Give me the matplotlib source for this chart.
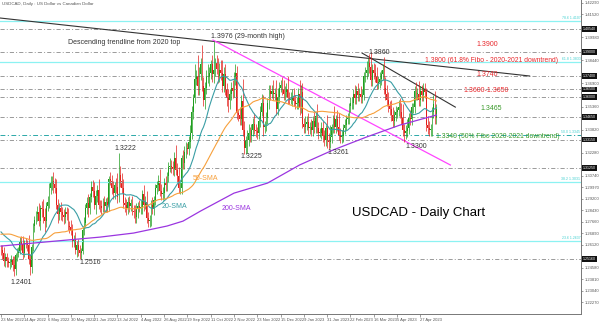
import matplotlib.pyplot as plt
import numpy as np
import pandas as pd

# daily closes, 23 Mar 2022 -> 16 May 2023 (one row per week)
closes = [
    1.2575, 1.2560, 1.2500,
    1.2530, 1.2500, 1.2490, 1.2495, 1.2510,
    1.2475, 1.2450, 1.2545, 1.2560, 1.2570,
    1.2630, 1.2615, 1.2560, 1.2625, 1.2620,
    1.2610, 1.2520, 1.2460, 1.2600, 1.2740,
    1.2780, 1.2820, 1.2830, 1.2770, 1.2860,
    1.2850, 1.2800, 1.2770, 1.2870, 1.2900,
    1.2990, 1.3030, 1.3040, 1.3020, 1.2990,
    1.2880, 1.2820, 1.2860, 1.2830, 1.2810,
    1.2800, 1.2830, 1.2815, 1.2740, 1.2730,
    1.2710, 1.2640, 1.2650, 1.2580, 1.2610,
    1.2580, 1.2560, 1.2570, 1.2710, 1.2760,
    1.2860, 1.2890, 1.2860, 1.2930, 1.3000,
    1.2970, 1.2880, 1.2940, 1.2980, 1.2880,
    1.2870, 1.2860, 1.2900, 1.2870, 1.2900,
    1.2880, 1.3050, 1.3040, 1.2990, 1.2960,
    1.3010, 1.3000, 1.2930, 1.3080, 1.3040,
    1.2990, 1.2890, 1.2880, 1.2860, 1.2900,
    1.2870, 1.2890, 1.2840, 1.2830, 1.2800,
    1.2850, 1.2870, 1.2860, 1.2860, 1.2950,
    1.2880, 1.2900, 1.2790, 1.2770, 1.2780,
    1.2880, 1.2850, 1.2910, 1.2990, 1.3010,
    1.3040, 1.2970, 1.2950, 1.2960, 1.3030,
    1.3010, 1.3070, 1.3130, 1.3140, 1.3130,
    1.3120, 1.3190, 1.3110, 1.3070, 1.2990,
    1.2990, 1.3190, 1.3160, 1.3230, 1.3260,
    1.3250, 1.3300, 1.3360, 1.3500, 1.3590,
    1.3720, 1.3740, 1.3670, 1.3750, 1.3820,
    1.3670, 1.3580, 1.3660, 1.3730, 1.3730,
    1.3760, 1.3820, 1.3750, 1.3780, 1.3830,
    1.3790, 1.3740, 1.3780, 1.3760, 1.3670,
    1.3750, 1.3650, 1.3590, 1.3580, 1.3620,
    1.3660, 1.3640, 1.3730, 1.3760, 1.3490,
    1.3480, 1.3450, 1.3570, 1.3380, 1.3260,
    1.3310, 1.3310, 1.3360, 1.3340, 1.3380,
    1.3420, 1.3380, 1.3370, 1.3360, 1.3440,
    1.3500, 1.3560, 1.3400, 1.3410, 1.3460,
    1.3560, 1.3640, 1.3620, 1.3640, 1.3620,
    1.3620, 1.3520, 1.3600, 1.3660, 1.3680,
    1.3650, 1.3620, 1.3630, 1.3650, 1.3590,
    1.3580, 1.3580, 1.3600, 1.3570, 1.3550,
    1.3560, 1.3620, 1.3530, 1.3630, 1.3420,
    1.3400, 1.3420, 1.3430, 1.3390, 1.3400,
    1.3380, 1.3440, 1.3400, 1.3470, 1.3390,
    1.3360, 1.3360, 1.3390, 1.3340, 1.3310,
    1.3390, 1.3310, 1.3300, 1.3330, 1.3400,
    1.3460, 1.3400, 1.3450, 1.3400, 1.3340,
    1.3330, 1.3340, 1.3390, 1.3410, 1.3450,
    1.3460, 1.3540, 1.3560, 1.3560, 1.3620,
    1.3590, 1.3640, 1.3610, 1.3620, 1.3600,
    1.3610, 1.3740, 1.3760, 1.3780, 1.3830,
    1.3800, 1.3710, 1.3780, 1.3760, 1.3740,
    1.3690, 1.3700, 1.3720, 1.3750, 1.3780,
    1.3660, 1.3620, 1.3580, 1.3540, 1.3520,
    1.3480, 1.3440, 1.3480, 1.3500, 1.3510,
    1.3530, 1.3500, 1.3460, 1.3380, 1.3360,
    1.3370, 1.3390, 1.3460, 1.3450, 1.3530,
    1.3530, 1.3640, 1.3620, 1.3620, 1.3580,
    1.3640, 1.3610, 1.3650, 1.3630, 1.3410,
    1.3390, 1.3380, 1.3380, 1.3500, 1.3550,
    1.3460, 1.3520,
]
first_open = 1.2590

# wick lengths in pips above / below the candle body
upper_pips = [
    20, 35, 40,
    30, 25, 30, 20, 35,
    25, 60, 15, 30, 25,
    35, 40, 55, 20, 30,
    25, 70, 30, 15, 20,
    25, 20, 40, 60, 15,
    45, 70, 60, 30, 40,
    35, 40, 30, 55, 40,
    60, 40, 30, 40, 35,
    40, 35, 35, 45, 30,
    45, 40, 30, 50, 25,
    40, 30, 20, 30, 40,
    25, 40, 60, 30, 40,
    45, 60, 40, 30, 70,
    30, 40, 25, 40, 25,
    30, 20, 50, 40, 45,
    20, 50, 90, 142, 60,
    50, 60, 40, 40, 30,
    40, 30, 50, 35, 45,
    40, 30, 40, 50, 30,
    60, 40, 70, 40, 30,
    30, 50, 25, 30, 30,
    40, 80, 50, 40, 30,
    40, 30, 35, 55, 40,
    40, 40, 90, 50, 60,
    40, 20, 55, 40, 40,
    30, 40, 50, 40, 30,
    100, 40, 140, 50, 40,
    130, 60, 40, 50, 90,
    40, 30, 60, 196, 30,
    50, 70, 50, 70, 90,
    50, 70, 40, 60, 30,
    40, 50, 40, 60, 50,
    30, 50, 40, 150, 60,
    30, 70, 60, 40, 40,
    40, 70, 40, 30, 30,
    40, 60, 50, 30, 40,
    30, 40, 40, 40, 70,
    40, 90, 60, 40, 30,
    50, 60, 40, 40, 90,
    40, 50, 50, 60, 40,
    40, 40, 90, 50, 60,
    40, 50, 40, 60, 30,
    50, 30, 60, 30, 80,
    40, 30, 40, 50, 40,
    20, 90, 50, 80, 20,
    20, 80, 30, 60, 90,
    50, 40, 30, 40, 30,
    30, 20, 40, 40, 30,
    60, 30, 50, 40, 50,
    40, 30, 40, 60, 30,
    60, 100, 40, 50, 60,
    60, 40, 50, 30, 40,
    90, 70, 60, 50, 30,
    60, 50, 30, 40, 20,
    50, 60, 60, 90, 40,
    40, 60, 30, 50, 30,
    30, 30, 60, 40, 88,
    30, 40, 40, 40, 30,
    60, 50, 40, 30, 60,
    90, 30,
]
lower_pips = [
    30, 40, 30,
    40, 40, 30, 40, 30,
    40, 49, 40, 40, 30,
    20, 40, 40, 30, 30,
    40, 40, 50, 40, 30,
    40, 30, 50, 30, 60,
    50, 40, 70, 40, 30,
    40, 40, 50, 60, 30,
    30, 60, 40, 50, 40,
    50, 40, 40, 30, 40,
    30, 40, 40, 30, 50,
    40, 40, 44, 20, 30,
    30, 40, 60, 40, 30,
    40, 30, 60, 40, 30,
    40, 40, 30, 40, 40,
    50, 40, 30, 40, 40,
    40, 40, 40, 30, 40,
    30, 30, 50, 50, 40,
    40, 30, 30, 40, 40,
    40, 60, 30, 40, 40,
    40, 30, 30, 40, 40,
    40, 30, 40, 30, 40,
    40, 30, 40, 40, 40,
    40, 40, 40, 30, 40,
    40, 50, 30, 40, 30,
    40, 40, 40, 40, 40,
    30, 40, 40, 40, 50,
    30, 40, 60, 60, 40,
    30, 40, 60, 40, 40,
    60, 40, 50, 60, 40,
    40, 50, 40, 50, 40,
    40, 40, 50, 80, 60,
    40, 50, 40, 50, 40,
    40, 40, 40, 40, 40,
    40, 85, 40, 40, 40,
    40, 30, 40, 40, 40,
    40, 30, 60, 40, 40,
    40, 40, 40, 30, 40,
    40, 40, 40, 40, 30,
    40, 40, 40, 30, 40,
    30, 30, 40, 30, 30,
    30, 40, 50, 40, 30,
    40, 40, 40, 40, 40,
    40, 40, 40, 40, 30,
    40, 30, 40, 40, 40,
    40, 50, 50, 39, 40,
    40, 40, 40, 30, 30,
    40, 40, 40, 40, 30,
    30, 40, 40, 40, 40,
    40, 40, 40, 40, 40,
    40, 30, 40, 40, 40,
    40, 40, 40, 40, 40,
    40, 40, 40, 40, 40,
    40, 40, 40, 40, 40,
    40, 40, 40, 40, 40,
    40, 40, 40, 40, 60,
    40, 40, 40, 40, 40,
    40, 40, 40, 40, 40,
    40, 40, 40, 40, 40,
    40, 40, 40, 40, 40,
    40, 40,
]

# 50 sessions before the first candle, needed for the 20/50-SMA
pre_closes = [
    1.2520, 1.2500, 1.2520,
    1.2510, 1.2490, 1.2480, 1.2520, 1.2580,
    1.2640, 1.2640, 1.2700, 1.2760, 1.2740,
    1.2710, 1.2650, 1.2690, 1.2720, 1.2730,
    1.2750, 1.2700, 1.2680, 1.2720, 1.2740,
    1.2730, 1.2720, 1.2720, 1.2750, 1.2750,
    1.2760, 1.2750, 1.2780, 1.2780, 1.2720,
    1.2690, 1.2680, 1.2640, 1.2650, 1.2720,
    1.2840, 1.2800, 1.2790, 1.2740, 1.2720,
    1.2780, 1.2790, 1.2660, 1.2610, 1.2620,
    1.2590, 1.2560,
]

sma200_bars = [0, 22, 45, 68, 91, 114, 125, 137, 160, 183, 205, 228, 251, 274, 299]
sma200_vals = [1.2603, 1.2623, 1.2643, 1.2663, 1.2690, 1.2737, 1.2770, 1.2837,
               1.2957, 1.3024, 1.3145, 1.3245, 1.3332, 1.3412, 1.3479]

tick_bars = list(range(0, 289, 16))
tick_labels = ["23 Mar 2022", "14 Apr 2022", "6 May 2022", "30 May 2022", "21 Jun 2022",
               "13 Jul 2022", "4 Aug 2022", "26 Aug 2022", "19 Sep 2022", "11 Oct 2022",
               "2 Nov 2022", "23 Nov 2022", "15 Dec 2022", "9 Jan 2023", "31 Jan 2023",
               "22 Feb 2023", "16 Mar 2023", "5 Apr 2023", "27 Apr 2023"]

fibo_levels = [1.4107, 1.3833, 1.3345, 1.3031, 1.2637]
fibo_names = ["78.6", "61.8", "50.0", "38.2", "23.6"]
dash_levels = [1.4054, 1.3900, 1.3740, 1.3650, 1.3600, 1.3465, 1.3315, 1.3125, 1.2516]

trend_long_x, trend_long_y = [-1, 363], [1.4128, 1.3740]
trend_short_x, trend_short_y = [248, 312], [1.3893, 1.3532]
trend_mag_x, trend_mag_y = [145.6, 308.6], [1.3980, 1.3145]

# ---------------------------------------------------------------
c = np.array(closes)
o = np.array([first_open] + closes[:-1])
hi = np.maximum(o, c) + np.array(upper_pips) / 10000
lo = np.minimum(o, c) - np.array(lower_pips) / 10000
x = np.arange(len(c))

all_c = pd.Series(pre_closes + closes)
sma20 = all_c.rolling(20).mean().values[len(pre_closes):]
sma50 = all_c.rolling(50).mean().values[len(pre_closes):]

plt.rcParams['font.family'] = ['Liberation Sans', 'DejaVu Sans']
fig = plt.figure(figsize=(6, 3.22), dpi=100)
ax = fig.add_axes([0, 1 - 314 / 322, 581 / 600, 314 / 322])
ax.set_xlim(-0.69, 398.3)
ax.set_ylim(1.2149, 1.4248)

for lv in dash_levels:
    ax.axhline(lv, color='#8a8a8a', lw=0.6, dashes=(5, 2.5, 1.2, 2.5))
for lv, nm in zip(fibo_levels, fibo_names):
    if nm == "50.0":
        ax.axhline(lv, color='#2aa8a8', lw=0.7, dashes=(5, 2.5, 1.2, 2.5))
    else:
        ax.axhline(lv, color='#8cf2f2', lw=0.9)
    ax.text(0.999, lv + 0.0004, f"{nm} {lv:.4f}", color='#40d0d0', fontsize=2.5,
            ha='right', va='bottom', transform=ax.get_yaxis_transform())

ax.plot(trend_long_x, trend_long_y, color='#333333', lw=0.8)
ax.plot(trend_short_x, trend_short_y, color='#333333', lw=0.8)
ax.plot(trend_mag_x, trend_mag_y, color='#ff44ff', lw=0.9)

up = c >= o
col = np.where(up, '#1f9e1f', '#e3201b')
ax.vlines(x, lo, hi, colors=col, lw=0.5)
ax.bar(x, np.maximum(np.abs(c - o), 0.0003), bottom=np.minimum(o, c),
       width=0.6, color=col, lw=0)

ax.plot(x, sma20, color='#3a9ea5', lw=0.8)
ax.plot(x, sma50, color='#f7a03c', lw=0.8)
ax.plot(sma200_bars, sma200_vals, color='#9b35e0', lw=0.9)

for sp in ['left', 'top']:
    ax.spines[sp].set_visible(False)
for sp in ['right', 'bottom']:
    ax.spines[sp].set_color('#777777')
    ax.spines[sp].set_linewidth(0.7)

# price scale; labels hidden where a level box sits on top of them
yt = np.arange(1.2227, 1.4240, 0.0077)
yt = [t for t in yt if min(abs(t - lv) for lv in dash_levels) > 0.004]
ax.yaxis.tick_right()
ax.set_yticks(yt)
ax.yaxis.set_major_formatter(plt.FuncFormatter(lambda v, p: f"{v:.5f}"))
ax.tick_params(axis='y', labelsize=3, colors='#555555', length=1.5, width=0.4, pad=1)
ax.set_xticks(tick_bars)
ax.set_xticklabels(tick_labels, ha='left')
ax.tick_params(axis='x', labelsize=3, colors='#555555', length=2, width=0.4, pad=1)

for lv in dash_levels:
    ax.text(1.003, lv, f"{lv:.5f}", color='white', fontsize=2.6, va='center', ha='left',
            transform=ax.get_yaxis_transform(), clip_on=False,
            bbox=dict(facecolor='#111111', edgecolor='none', pad=0.6))

red, green, dark = '#e8282c', '#3a9a2a', '#333333'
notes = [
    (2, 4, "USDCAD, Daily : US Dollar vs Canadian Dollar", '#555555', 3.2),
    (68, 43, "Descending trendline from 2020 top", dark, 5),
    (211, 37, "1.3976 (29-month high)", dark, 5),
    (368, 53, "1.3860", dark, 5),
    (476, 45, "1.3900", red, 5),
    (425, 60, "1.3800 (61.8% Fibo - 2020-2021 downtrend)", red, 4.85),
    (476, 74, "1.3740", red, 5),
    (463, 91, "1.3600-1.3650", red, 5),
    (480, 108, "1.3465", green, 5),
    (436, 136, "1.3340 (50% Fibo 2020-2021 downtrend)", green, 4.85),
    (405, 146, "1.3300", dark, 5),
    (327, 152, "1.3261", dark, 5),
    (240, 157, "1.3225", dark, 5),
    (114, 149, "1.3222", dark, 5),
    (79, 263, "1.2516", dark, 5),
    (10, 282, "1.2401", dark, 5),
    (162, 207, "20-SMA", '#3a9ea5', 5),
    (193, 179, "50-SMA", '#f7a03c', 5),
    (222, 208, "200-SMA", '#9b35e0', 5),
    (352, 213, "USDCAD - Daily Chart", 'black', 9.5),
]
for px, py, s, cl, fs in notes:
    fig.text(px / 600, 1 - py / 322, s, color=cl, fontsize=fs, ha='left', va='center')

fig.savefig('out.png', dpi=100)
